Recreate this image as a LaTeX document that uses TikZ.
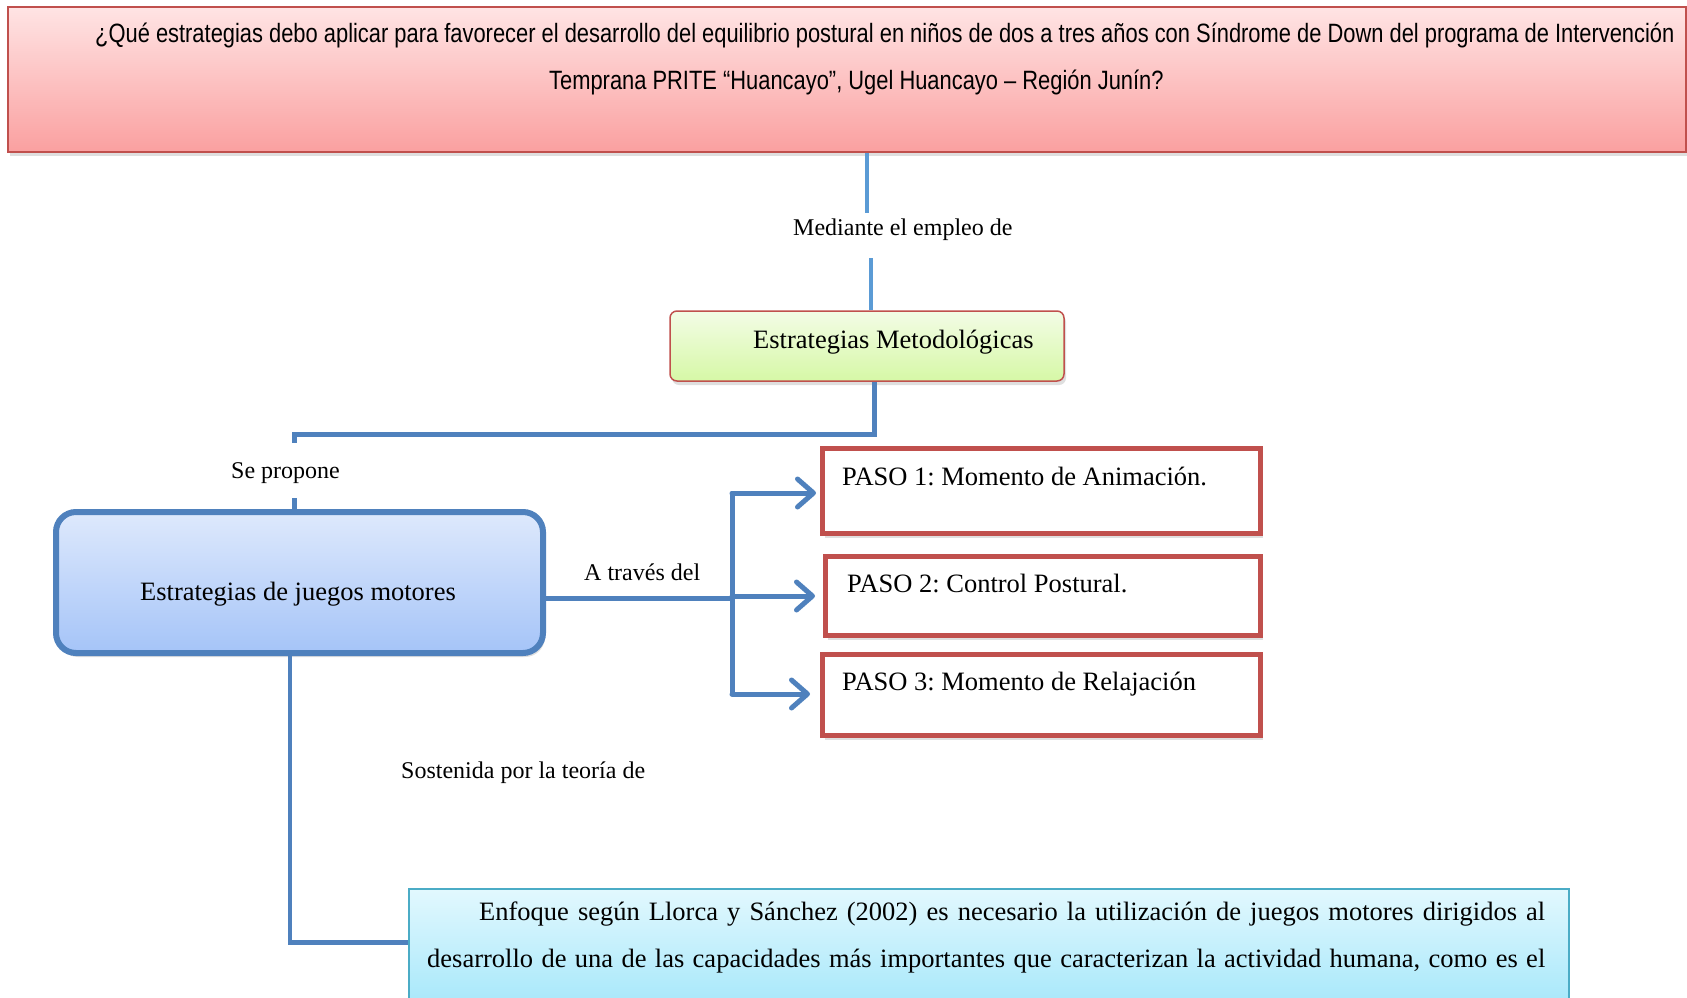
\documentclass[tikz,border=0pt]{standalone}
\usepackage{fontspec}
\setmainfont{Liberation Serif}
\newfontfamily\narrowsans{Liberation Sans}[FakeStretch=0.826]
\usetikzlibrary{arrows.meta,shadows}
\definecolor{cblue}{RGB}{79,129,189}
\definecolor{clblue}{RGB}{91,155,213}
\definecolor{cred}{RGB}{192,80,77}
\definecolor{cteal}{RGB}{75,172,198}
\definecolor{toptop}{RGB}{255,228,228}
\definecolor{topbot}{RGB}{250,160,160}
\definecolor{metotop}{RGB}{243,252,230}
\definecolor{metobot}{RGB}{214,248,166}
\definecolor{juetop}{RGB}{222,233,252}
\definecolor{juebot}{RGB}{165,196,248}
\definecolor{enftop}{RGB}{226,248,254}
\definecolor{enfbot}{RGB}{160,230,250}
\frenchspacing
\begin{document}
\begin{tikzpicture}[x=1pt,y=-1pt,
  shad/.style={drop shadow={opacity=0.25,shadow xshift=2pt,shadow yshift=-4pt}},
  lbl/.style={inner sep=0pt,font=\fontsize{24}{28}\selectfont},
  big/.style={inner sep=0pt,font=\fontsize{26.5}{30}\selectfont},
  topfont/.style={inner sep=0pt,font=\narrowsans\fontsize{26.5}{30}\selectfont},
  pasobox/.style={draw=cred,line width=5pt,fill=white,inner sep=0pt,shad},
  conn/.style={draw=cblue,line width=5pt},
  thinconn/.style={draw=clblue,line width=3.5pt},
  arr/.style={draw=cblue,line width=5pt,line cap=round,-{Straight Barb[length=16pt,width=28pt,round]}}
]
\useasboundingbox (0,0) rectangle (1687,997);
\clip (0,0) rectangle (1687,997);

% boxes
\node[draw=cred,line width=2pt,top color=toptop,bottom color=topbot,
      minimum width=1678pt,minimum height=145pt,inner sep=0pt,shad] (top) at (847,79.5) {};
\node[topfont,anchor=base west] (q1) at (95,42) {¿Qué estrategias debo aplicar para favorecer el desarrollo del equilibrio postural en niños de dos a tres años con Síndrome de Down del programa de Intervención};
\node[topfont,anchor=base west] (q2) at (549,89) {Temprana PRITE “Huancayo”, Ugel Huancayo – Región Junín?};

\node[draw=cred,line width=1.5pt,rounded corners=7pt,top color=metotop,bottom color=metobot,
      minimum width=394pt,minimum height=70pt,inner sep=0pt,shad] (meto) at (867,346) {};
\node[big,anchor=base west] (metot) at (753,348) {Estrategias Metodológicas};

\node[draw=cblue,line width=6pt,rounded corners=20pt,top color=juetop,bottom color=juebot,
      minimum width=487pt,minimum height=141pt,inner sep=0pt,shad] (jue) at (299.5,582.5) {};
\node[big,anchor=base] (juet) at (298,600) {Estrategias de juegos motores};

\node[pasobox,minimum width=438pt,minimum height=85pt] (p1) at (1041.5,491) {};
\node[pasobox,minimum width=435pt,minimum height=79pt] (p2) at (1043,596) {};
\node[pasobox,minimum width=438pt,minimum height=81pt] (p3) at (1041.5,695) {};
\node[big,anchor=base west] (p1t) at (842,485) {PASO 1: Momento de Animación.};
\node[big,anchor=base west] (p2t) at (847,592) {PASO 2: Control Postural.};
\node[big,anchor=base west] (p3t) at (842,690) {PASO 3: Momento de Relajación};

\node[draw=cteal,line width=2pt,top color=enftop,bottom color=enfbot,
      minimum width=1160pt,minimum height=130pt,inner sep=0pt,anchor=north west] (enf) at (408,888) {};
\node[big,anchor=base west] (e1) at (479,920) {\makebox[1066pt][s]{Enfoque según Llorca y Sánchez (2002) es necesario la utilización de juegos motores dirigidos al}};
\node[big,anchor=base west] (e2) at (427,967) {\makebox[1118pt][s]{desarrollo de una de las capacidades más importantes que caracterizan la actividad humana, como es el}};

% labels
\node[lbl,anchor=base west] (med) at (793,235) {Mediante el empleo de};
\node[lbl,anchor=base west] (sep) at (231,478) {Se propone};
\node[lbl,anchor=base west] (atr) at (584,580) {A través del};
\node[lbl,anchor=base west] (sos) at (401,778) {Sostenida por la teoría de};

% connectors
\coordinate (c1) at (867,213);
\draw[thinconn] (c1 |- top.south) -- (c1);
\coordinate (c2) at (871,258);
\draw[thinconn] (c2) -- (c2 |- meto.north);
\coordinate (c3) at (294,443);
\draw[conn] ([xshift=7pt]meto.south) -- ++(0,53) -| (c3);
\coordinate (c5) at (294,498);
\draw[conn] (c5) -- (c5 |- jue.north);

\coordinate (j0) at (732,598);
\coordinate (jt) at (732,493);
\coordinate (jm) at (732,596);
\coordinate (jb) at (732,694);
\draw[conn] (jue.east |- j0) -- (j0);
\draw[conn] (jt) -- (jb);
\draw[arr,shorten >=4pt] (jt) -- (p1.west |- jt);
\draw[arr,shorten >=8pt] (jm) -- (p2.west |- jm);
\draw[arr,shorten >=10pt] (jb) -- (p3.west |- jb);

\coordinate (k) at (290,942);
\draw[thinconn,draw=cblue] (jue.south -| k) -- ([yshift=-3pt]k);
\draw[conn] (k) -- (enf.west |- k);
\end{tikzpicture}
\end{document}
